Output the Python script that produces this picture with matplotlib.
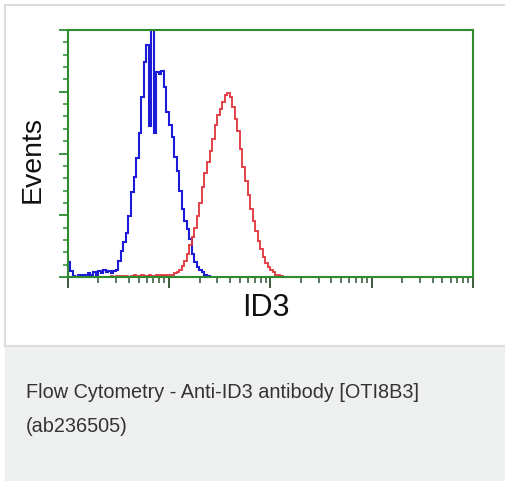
import numpy as np
import matplotlib
matplotlib.use("Agg")
import matplotlib.pyplot as plt
from matplotlib.patches import Rectangle
from matplotlib.ticker import LogLocator, MultipleLocator, NullFormatter

plt.rcParams['font.family'] = ['Liberation Sans', 'DejaVu Sans']

# histogram channels: 40 channels per decade, first channel at 10^0
ch_per_decade = 40

# isotype control (blue), channels 0..57
blue_start = 0
blue_counts = [12, 5, 1, 0, 2, 2, 2, 2, 3, 2, 4, 2, 5, 3, 6, 4, 5, 3, 5, 6,
               13, 21, 28, 36, 49, 69, 81, 96, 117, 146, 174, 188, 122, 205, 117, 166, 164, 167, 154, 134,
               123, 113, 97, 86, 70, 55, 45, 39, 31, 19, 12, 8, 6, 4, 2, 1, 0, 0]

# anti-ID3 stained (red), channels 16..86
red_start = 16
red_counts = [0, 1, 0, 1, 1, 0, 1, 1, 0, 1, 2, 1, 1, 2, 1, 1, 2, 1, 1, 2,
              1, 2, 1, 2, 2, 2, 3, 4, 6, 9, 13, 19, 26, 32, 40, 49, 60, 73, 84, 93,
              102, 112, 123, 131, 136, 142, 147, 149, 146, 138, 128, 118, 104, 89, 78, 66, 55, 45, 37, 29,
              23, 16, 11, 8, 6, 4, 2, 2, 1, 0, 0]

x_label = "ID3"
y_label = "Events"
caption1 = "Flow Cytometry - Anti-ID3 antibody [OTI8B3]"
caption2 = "(ab236505)"

green = '#2e8b2e'

fig = plt.figure(figsize=(5.06, 4.82), dpi=100)
fig.patch.set_facecolor('white')

# card with border and grey caption strip
fig.patches.append(Rectangle((5 / 506, 1 - 346 / 482), 1.2, 341 / 482, transform=fig.transFigure,
                             facecolor='white', edgecolor='#dcdcdc', linewidth=1.5, zorder=-10))
fig.patches.append(Rectangle((5 / 506, 1 - 481 / 482), 1.2, 134 / 482, transform=fig.transFigure,
                             facecolor='#eef0ef', edgecolor='none', zorder=-10))

ax = fig.add_axes([67.7 / 506, 1 - 277 / 482, 405.3 / 506, 247 / 482])
ax.set_facecolor('white')

def edges(start, n):
    return 10 ** ((start + np.arange(n + 1)) / ch_per_decade)

ax.stairs(blue_counts, edges(blue_start, len(blue_counts)), color='#1c1cd8', linewidth=1.5)
ax.stairs(red_counts, edges(red_start, len(red_counts)), color='#e0343c', linewidth=1.3)

ax.set_xscale('log')
ax.set_xlim(1, 1e4)
ax.set_ylim(0, 200)

for s in ax.spines.values():
    s.set_color(green)
    s.set_linewidth(1.5)

ax.xaxis.set_major_locator(LogLocator(base=10, numticks=10))
ax.xaxis.set_minor_locator(LogLocator(base=10, subs=np.arange(2, 10), numticks=20))
ax.xaxis.set_major_formatter(NullFormatter())
ax.xaxis.set_minor_formatter(NullFormatter())
ax.yaxis.set_major_locator(MultipleLocator(50))
ax.yaxis.set_minor_locator(MultipleLocator(10))
ax.yaxis.set_major_formatter(NullFormatter())

ax.tick_params(axis='x', which='major', direction='out', length=8, width=1.3, color='#2f4f2f')
ax.tick_params(axis='x', which='minor', direction='out', length=4, width=1.1, color='#2f4f2f')
ax.tick_params(axis='y', which='major', direction='out', length=6.5, width=1.3, color=green)
ax.tick_params(axis='y', which='minor', direction='out', length=3.5, width=1.1, color=green)
ax.tick_params(top=False, right=False)

fig.text(33 / 506, 1 - 160 / 482, y_label, rotation=90, ha='center', va='center', fontsize=20.5, color='#111111')
fig.text(266 / 506, 1 - 308 / 482, x_label, ha='center', va='center', fontsize=22, color='#111111')

fig.text(26 / 506, 1 - 392 / 482, caption1, ha='left', va='center', fontsize=14.3, color='#333333')
fig.text(26 / 506, 1 - 427 / 482, caption2, ha='left', va='center', fontsize=14.3, color='#333333')

fig.savefig('out.png', dpi=100)
